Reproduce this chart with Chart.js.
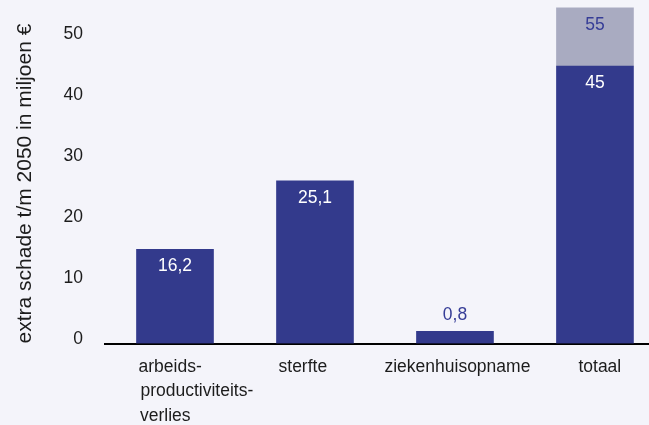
<!DOCTYPE html>
<html>
<head>
<meta charset="utf-8">
<script src="https://cdn.jsdelivr.net/npm/chart.js@4/dist/chart.umd.min.js"></script>
<style>
  html, body { margin: 0; padding: 0; background: #f4f4fa; overflow: hidden; }
  #wrap { position: relative; width: 649px; height: 425px; }
</style>
</head>
<body>
<div id="wrap"><canvas id="c"></canvas></div>
<script>
// ---- data ----
const categories = [["arbeids-", "productiviteits-", "verlies"], ["sterfte"], ["ziekenhuisopname"], ["totaal"]];
const barValues = [15.4, 26.6, 2.0, 45.4];          // drawn bar heights
const barValueLabels = ["16,2", "25,1", "0,8", "45"];
const upperTotalValue = [9.5];                       // extra segment on top of "totaal"
const upperTotalLabels = ["55"];
const yTickValues = [0, 10, 20, 30, 40, 50];
const yTitle = "extra schade t/m 2050 in miljoen €";

// ---- styling ----
const DARK = "#333a8c";
const LIGHT = "#a9abc1";
const LABEL_BLUE = "#363d97";
const TEXT = "#1c1c1c";
const FONT = '"Liberation Sans", Arial, sans-serif';

// per-line space padding [leading, trailing] to mimic the reference label placement
const labelPads = [[[0, 2], [9, 0], [0, 4]], [[0, 5]], [[1, 0]], [[2, 0]]];
// label placement: inside bar top or above bar
const labelPlacement = ["inside", "inside", "above", "inside"];

const darkData = barValues.map((v, i) => ({ x: i, y: v }));
const lightData = upperTotalValue.map(v => ({ x: categories.length - 1, y: v }));

const valueLabelPlugin = {
  id: 'valueLabels',
  afterDatasetsDraw(chart) {
    const ctx = chart.ctx;
    ctx.save();
    ctx.font = '17.5px ' + FONT;
    ctx.textAlign = 'center';
    ctx.textBaseline = 'middle';
    chart.data.datasets.forEach((ds, di) => {
      const meta = chart.getDatasetMeta(di);
      meta.data.forEach((bar, i) => {
        const txt = ds.valueText[i];
        if (!txt) return;
        const place = ds.placement ? ds.placement[i] : 'inside';
        if (place === 'above') {
          ctx.fillStyle = LABEL_BLUE;
          ctx.fillText(txt, bar.x, bar.y - 16);
        } else {
          ctx.fillStyle = ds.textColor;
          ctx.fillText(txt, bar.x, bar.y + 17);
        }
      });
    });
    ctx.restore();
  }
};

new Chart(document.getElementById('c'), {
  type: 'bar',
  data: {
    datasets: [
      { data: darkData, backgroundColor: DARK, barThickness: 77, borderWidth: 0,
        valueText: barValueLabels, placement: labelPlacement, textColor: '#ffffff' },
      { data: lightData, backgroundColor: LIGHT, barThickness: 77, borderWidth: 0,
        valueText: upperTotalLabels, textColor: LABEL_BLUE }
    ]
  },
  options: {
    responsive: true,
    maintainAspectRatio: false,
    animation: false,
    devicePixelRatio: 1,
    layout: { padding: 0 },
    plugins: { legend: { display: false }, tooltip: { enabled: false } },
    scales: {
      x: {
        type: 'linear',
        stacked: true,
        offset: false,
        min: -0.5,
        max: 3.386,
        z: 1,
        grid: { display: false, drawTicks: false, offset: false },
        border: { display: true, color: '#000000', width: 2 },
        afterBuildTicks: (scale) => { scale.ticks = categories.map((_, i) => ({ value: i })); },
        afterFit: (scale) => {
          scale.height = 81.5;
          scale.paddingLeft = 0; scale.paddingRight = 0;
        },
        ticks: {
          padding: 11,
          color: TEXT,
          font: { family: FONT, size: 17.5, lineHeight: 1.4 },
          maxRotation: 0,
          autoSkip: false,
          callback: (value) => {
            const i = Math.round(value);
            const lines = categories[i];
            if (!lines) return '';
            return lines.map((ln, k) => {
              const p = labelPads[i][k] || [0, 0];
              return ' '.repeat(p[0]) + ln + ' '.repeat(p[1]);
            });
          }
        }
      },
      y: {
        stacked: true,
        min: 0,
        max: 56.2,
        grid: { display: false, drawTicks: false },
        border: { display: false },
        afterBuildTicks: (scale) => { scale.ticks = yTickValues.map(v => ({ value: v })); },
        afterFit: (scale) => {
          scale.width = 105;
          scale.paddingTop = 0; scale.paddingBottom = 0;
        },
        ticks: {
          padding: 22,
          labelOffset: -4,
          color: TEXT,
          font: { family: FONT, size: 17.5 }
        },
        title: {
          display: true,
          text: yTitle,
          align: 'start',
          color: TEXT,
          font: { family: FONT, size: 21, lineHeight: 1.2 },
          padding: { top: 13, bottom: 0 }
        }
      }
    }
  },
  plugins: [valueLabelPlugin]
});
</script>
</body>
</html>
